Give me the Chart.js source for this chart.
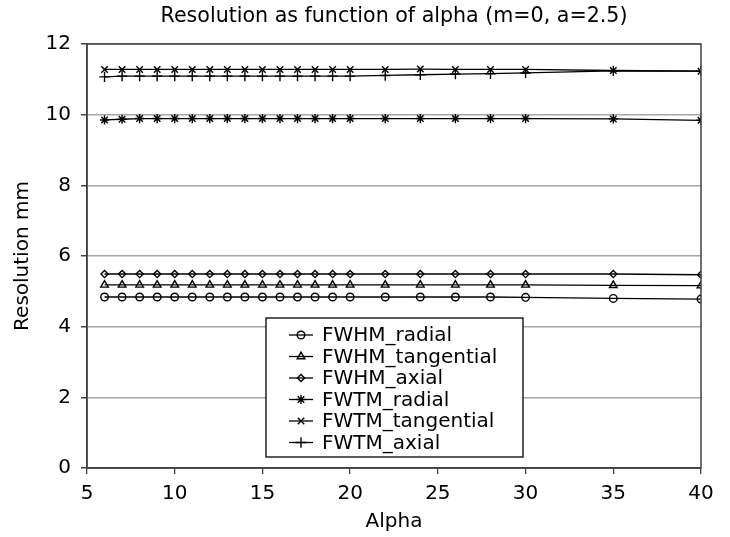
<!DOCTYPE html>
<html>
<head>
<meta charset="utf-8">
<title>Resolution as function of alpha</title>
<script src="https://cdn.jsdelivr.net/npm/chart.js@4.4.0/dist/chart.umd.min.js"></script>
<style>
    html, body { margin: 0; padding: 0; background: #fff; }
    #wrap { position: relative; width: 730px; height: 537px; }
</style>
</head>
<body>
<div id="wrap"><canvas id="chart"></canvas></div>
<script>
const chartTitle = "Resolution as function of alpha (m=0, a=2.5)";

const alphaValues = [6, 7, 8, 9, 10, 11, 12, 13, 14, 15, 16, 17, 18, 19, 20, 22, 24, 26, 28, 30, 35, 40];

const fwhmRadial     = [4.84, 4.84, 4.84, 4.84, 4.84, 4.84, 4.84, 4.84, 4.84, 4.84, 4.84, 4.84, 4.84, 4.84, 4.84, 4.84, 4.84, 4.84, 4.84, 4.83, 4.80, 4.78];
const fwhmTangential = [5.18, 5.18, 5.18, 5.18, 5.18, 5.18, 5.18, 5.18, 5.18, 5.18, 5.18, 5.18, 5.18, 5.18, 5.18, 5.18, 5.18, 5.18, 5.18, 5.18, 5.17, 5.16];
const fwhmAxial      = [5.49, 5.49, 5.49, 5.49, 5.49, 5.49, 5.49, 5.49, 5.49, 5.49, 5.49, 5.49, 5.49, 5.49, 5.49, 5.49, 5.49, 5.49, 5.49, 5.49, 5.49, 5.47];
const fwtmRadial     = [9.85, 9.87, 9.89, 9.89, 9.89, 9.89, 9.89, 9.89, 9.89, 9.89, 9.89, 9.89, 9.89, 9.89, 9.89, 9.89, 9.89, 9.89, 9.89, 9.89, 9.88, 9.84];
const fwtmTangential = [11.28, 11.28, 11.28, 11.28, 11.28, 11.28, 11.28, 11.28, 11.28, 11.28, 11.28, 11.28, 11.28, 11.28, 11.28, 11.28, 11.29, 11.28, 11.28, 11.28, 11.25, 11.23];
const fwtmAxial      = [11.07, 11.09, 11.09, 11.09, 11.09, 11.09, 11.09, 11.09, 11.09, 11.09, 11.09, 11.09, 11.09, 11.09, 11.09, 11.11, 11.13, 11.15, 11.16, 11.18, 11.24, 11.23];

const seriesNames = ["FWHM_radial", "FWHM_tangential", "FWHM_axial", "FWTM_radial", "FWTM_tangential", "FWTM_axial"];
const seriesValues = [fwhmRadial, fwhmTangential, fwhmAxial, fwtmRadial, fwtmTangential, fwtmAxial];
const seriesMarkers = ["circle", "triangle", "rectRot", "star", "crossRot", "cross"];
const markerSizes = [3.8, 4.4, 3.6, 4.6, 4.6, 5.2];

const xTicks = [5, 10, 15, 20, 25, 30, 35, 40];
const yTicks = [0, 2, 4, 6, 8, 10, 12];

const FONT = '"DejaVu Sans", Verdana, sans-serif';
const AXIS_COLOR = '#404040';

function makeDataset(i) {
    return {
        label: seriesNames[i],
        data: alphaValues.map((a, j) => ({x: a, y: seriesValues[i][j]})),
        borderColor: '#000',
        borderWidth: 1.3,
        pointStyle: seriesMarkers[i],
        pointRadius: markerSizes[i],
        pointBorderColor: '#000',
        pointBackgroundColor: 'rgba(0,0,0,0)',
        pointBorderWidth: 1.4,
        tension: 0,
        fill: false
    };
}

// title, plot frame and the boxed legend sitting inside the plot
const decorations = {
    id: 'decorations',
    afterDraw(chart) {
        const ctx = chart.ctx;
        const area = chart.chartArea;
        ctx.save();

        ctx.strokeStyle = AXIS_COLOR;
        ctx.lineWidth = 1.5;
        ctx.strokeRect(area.left, area.top, area.right - area.left, area.bottom - area.top);

        ctx.fillStyle = '#000';
        ctx.font = '20.6px ' + FONT;
        ctx.textAlign = 'center';
        ctx.textBaseline = 'middle';
        ctx.fillText(chartTitle, (area.left + area.right) / 2, 17);

        const box = {x: 266, y: 318, w: 257, h: 139};
        ctx.fillStyle = '#fff';
        ctx.fillRect(box.x, box.y, box.w, box.h);
        ctx.strokeStyle = '#000';
        ctx.lineWidth = 1.3;
        ctx.strokeRect(box.x, box.y, box.w, box.h);

        const rowGap = 21.5;
        for (let i = 0; i < seriesNames.length; i++) {
            const cy = box.y + 17 + i * rowGap;
            ctx.strokeStyle = '#000';
            ctx.lineWidth = 1.3;
            ctx.beginPath();
            ctx.moveTo(289, cy);
            ctx.lineTo(313, cy);
            ctx.stroke();
            if (Chart.helpers && Chart.helpers.drawPoint) {
                ctx.fillStyle = 'rgba(0,0,0,0)';
                ctx.lineWidth = 1.4;
                Chart.helpers.drawPoint(ctx, {pointStyle: seriesMarkers[i], radius: markerSizes[i], rotation: 0, borderWidth: 1.4}, 301, cy);
            }
            ctx.fillStyle = '#000';
            ctx.font = '20px ' + FONT;
            ctx.textAlign = 'left';
            ctx.textBaseline = 'middle';
            ctx.fillText(seriesNames[i], 322, cy + 1);
        }
        ctx.restore();
    }
};

new Chart(document.getElementById('chart'), {
    type: 'line',
    data: {
        datasets: seriesNames.map((n, i) => makeDataset(i))
    },
    options: {
        responsive: true,
        maintainAspectRatio: false,
        animation: false,
        layout: {
            padding: {top: 44, right: 29, left: 0, bottom: 0}
        },
        plugins: {
            legend: {display: false},
            title: {display: false},
            tooltip: {enabled: false}
        },
        scales: {
            x: {
                type: 'linear',
                min: 5,
                max: 40,
                afterBuildTicks: (scale) => { scale.ticks = xTicks.map(v => ({value: v})); },
                afterFit: (scale) => { scale.height = 69; },
                grid: {
                    drawOnChartArea: false,
                    drawTicks: true,
                    tickLength: 6,
                    tickColor: AXIS_COLOR,
                    lineWidth: 1.3
                },
                border: {display: true, color: AXIS_COLOR, width: 1.5},
                ticks: {
                    color: '#000',
                    font: {family: FONT, size: 20},
                    padding: 8,
                    maxRotation: 0,
                    autoSkip: false
                },
                title: {
                    display: true,
                    text: 'Alpha',
                    color: '#000',
                    font: {family: FONT, size: 20},
                    padding: {top: 0, bottom: 3}
                }
            },
            y: {
                min: 0,
                max: 12,
                afterBuildTicks: (scale) => { scale.ticks = yTicks.map(v => ({value: v})); },
                afterFit: (scale) => { scale.width = 87; },
                grid: {
                    color: '#a6a6a6',
                    lineWidth: 1.5,
                    drawTicks: true,
                    tickLength: 6,
                    tickColor: AXIS_COLOR
                },
                border: {display: true, color: AXIS_COLOR, width: 1.5},
                ticks: {
                    color: '#000',
                    font: {family: FONT, size: 20},
                    padding: 10
                },
                title: {
                    display: true,
                    text: 'Resolution mm',
                    color: '#000',
                    font: {family: FONT, size: 20},
                    padding: {top: 11, bottom: 0}
                }
            }
        }
    },
    plugins: [decorations]
});
</script>
</body>
</html>
